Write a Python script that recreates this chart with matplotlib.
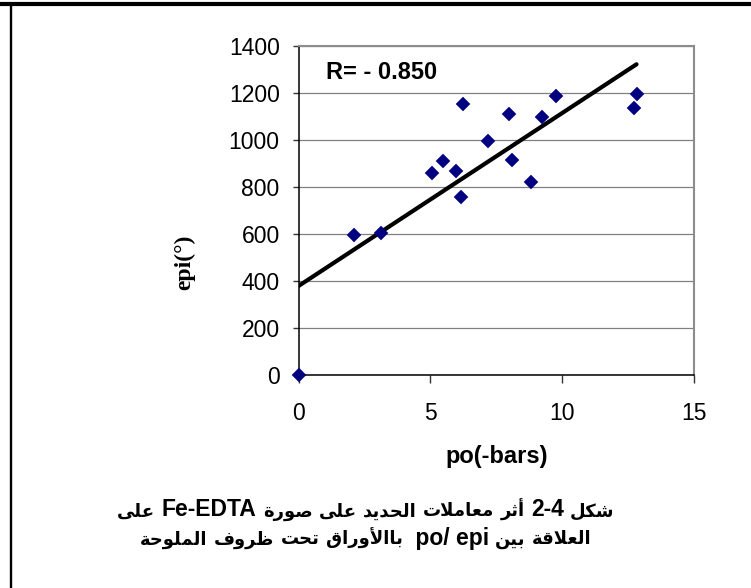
import numpy as np
import matplotlib
matplotlib.use("Agg")
import matplotlib.pyplot as plt
from matplotlib.lines import Line2D
from matplotlib.offsetbox import TextArea, HPacker, AnnotationBbox

# ---------------- data ----------------
po_bars = [0.0, 2.1, 3.11, 5.08, 5.47, 5.97, 6.23, 6.17, 7.2, 7.97, 8.11, 8.81, 9.22, 9.77, 12.72, 12.82]
epi_deg = [0, 596, 603, 861, 912, 869, 1153, 759, 996, 1111, 915, 820, 1099, 1187, 1135, 1194]
x_ticks = [0, 5, 10, 15]
y_ticks = [0, 200, 400, 600, 800, 1000, 1200, 1400]
r_label = "R= - 0.850"
x_label = "po(-bars)"
y_label = "epi(°)"
caption_line1 = ["شكل", "2-4", "أثر", "معاملات", "الحديد", "على", "صورة", "Fe-EDTA", "على"]
caption_line2 = ["العلاقة", "بين", " po/ epi", "باالأوراق", "تحت", "ظروف", "الملوحة"]

# ---------------- minimal Arabic shaping (matplotlib has no shaping/bidi) ----------------
FORMS = {
    '\u0621': ('\uFE80', None, None, None),
    '\u0622': ('\uFE81', '\uFE82', None, None),
    '\u0623': ('\uFE83', '\uFE84', None, None),
    '\u0624': ('\uFE85', '\uFE86', None, None),
    '\u0625': ('\uFE87', '\uFE88', None, None),
    '\u0626': ('\uFE89', '\uFE8A', '\uFE8B', '\uFE8C'),
    '\u0627': ('\uFE8D', '\uFE8E', None, None),
    '\u0628': ('\uFE8F', '\uFE90', '\uFE91', '\uFE92'),
    '\u0629': ('\uFE93', '\uFE94', None, None),
    '\u062A': ('\uFE95', '\uFE96', '\uFE97', '\uFE98'),
    '\u062B': ('\uFE99', '\uFE9A', '\uFE9B', '\uFE9C'),
    '\u062C': ('\uFE9D', '\uFE9E', '\uFE9F', '\uFEA0'),
    '\u062D': ('\uFEA1', '\uFEA2', '\uFEA3', '\uFEA4'),
    '\u062E': ('\uFEA5', '\uFEA6', '\uFEA7', '\uFEA8'),
    '\u062F': ('\uFEA9', '\uFEAA', None, None),
    '\u0630': ('\uFEAB', '\uFEAC', None, None),
    '\u0631': ('\uFEAD', '\uFEAE', None, None),
    '\u0632': ('\uFEAF', '\uFEB0', None, None),
    '\u0633': ('\uFEB1', '\uFEB2', '\uFEB3', '\uFEB4'),
    '\u0634': ('\uFEB5', '\uFEB6', '\uFEB7', '\uFEB8'),
    '\u0635': ('\uFEB9', '\uFEBA', '\uFEBB', '\uFEBC'),
    '\u0636': ('\uFEBD', '\uFEBE', '\uFEBF', '\uFEC0'),
    '\u0637': ('\uFEC1', '\uFEC2', '\uFEC3', '\uFEC4'),
    '\u0638': ('\uFEC5', '\uFEC6', '\uFEC7', '\uFEC8'),
    '\u0639': ('\uFEC9', '\uFECA', '\uFECB', '\uFECC'),
    '\u063A': ('\uFECD', '\uFECE', '\uFECF', '\uFED0'),
    '\u0641': ('\uFED1', '\uFED2', '\uFED3', '\uFED4'),
    '\u0642': ('\uFED5', '\uFED6', '\uFED7', '\uFED8'),
    '\u0643': ('\uFED9', '\uFEDA', '\uFEDB', '\uFEDC'),
    '\u0644': ('\uFEDD', '\uFEDE', '\uFEDF', '\uFEE0'),
    '\u0645': ('\uFEE1', '\uFEE2', '\uFEE3', '\uFEE4'),
    '\u0646': ('\uFEE5', '\uFEE6', '\uFEE7', '\uFEE8'),
    '\u0647': ('\uFEE9', '\uFEEA', '\uFEEB', '\uFEEC'),
    '\u0648': ('\uFEED', '\uFEEE', None, None),
    '\u0649': ('\uFEEF', '\uFEF0', None, None),
    '\u064A': ('\uFEF1', '\uFEF2', '\uFEF3', '\uFEF4'),
}
LAM_ALEF = {'\u0622': ('\uFEF5', '\uFEF6'), '\u0623': ('\uFEF7', '\uFEF8'),
            '\u0625': ('\uFEF9', '\uFEFA'), '\u0627': ('\uFEFB', '\uFEFC')}


def is_arabic_word(w):
    return any(c in FORMS for c in w)


def shape_word(word):
    units = []
    i = 0
    while i < len(word):
        c = word[i]
        if c == '\u0644' and i + 1 < len(word) and word[i + 1] in LAM_ALEF:
            units.append(('LA', word[i + 1]))
            i += 2
        else:
            units.append(c)
            i += 1

    def joins_forward(u):
        return (not isinstance(u, tuple)) and u in FORMS and FORMS[u][2] is not None

    def is_ar(u):
        return isinstance(u, tuple) or u in FORMS

    out = []
    for k, u in enumerate(units):
        prev = units[k - 1] if k > 0 else None
        nxt = units[k + 1] if k + 1 < len(units) else None
        jp = prev is not None and joins_forward(prev)
        if isinstance(u, tuple):
            iso, fin = LAM_ALEF[u[1]]
            out.append(fin if jp else iso)
        elif u in FORMS:
            iso, fin, ini, med = FORMS[u]
            jn = ini is not None and nxt is not None and is_ar(nxt)
            if jp and fin is None:
                jp = False
            if jp and jn:
                out.append(med)
            elif jp:
                out.append(fin)
            elif jn:
                out.append(ini)
            else:
                out.append(iso)
        else:
            out.append(u)
    return ''.join(reversed(out))


AR_PROPS = dict(family='DejaVu Sans', fontweight='bold', fontsize=13.0, color='black')
LAT_PROPS = dict(family='Liberation Sans', fontweight='bold', fontsize=16.5, color='black')


def caption_box(tokens):
    children = []
    for t in reversed(tokens):  # right-to-left reading order -> visual left-to-right
        if is_arabic_word(t):
            children.append(TextArea(shape_word(t), textprops=AR_PROPS))
        else:
            children.append(TextArea(t, textprops=LAT_PROPS))
    return HPacker(children=children, align='baseline', pad=0, sep=4.5)


# ---------------- figure ----------------
W, H = 751, 588
fig = plt.figure(figsize=(W / 100, H / 100), dpi=100)
fig.patch.set_facecolor('white')

ax = fig.add_axes([298.5 / W, 1 - 375 / H, (694 - 298.5) / W, (375 - 46) / H])
ax.set_xlim(0, 15)
ax.set_ylim(0, 1400)

ax.set_yticks(y_ticks)
ax.set_xticks(x_ticks)
ax.yaxis.grid(True, color='#808080', lw=0.9)
ax.set_axisbelow(True)

for side in ('top', 'right'):
    ax.spines[side].set_color('#8c8c8c')
    ax.spines[side].set_linewidth(1.5)
for side in ('left', 'bottom'):
    ax.spines[side].set_color('black')
    ax.spines[side].set_linewidth(1.1)

ax.tick_params(axis='y', direction='out', length=4.5, width=1, color='#333333', pad=9)
ax.tick_params(axis='x', direction='out', length=5.5, width=1, color='#333333', pad=14)
for lab in ax.get_xticklabels() + ax.get_yticklabels():
    lab.set_fontfamily('Liberation Sans')
    lab.set_fontsize(16.5)

# scatter
ax.plot(po_bars, epi_deg, linestyle='none', marker='D', markersize=7.2,
        markerfacecolor='#000080', markeredgecolor='#000080', markeredgewidth=0.3,
        clip_on=False, zorder=4)

# linear trendline fitted to the data
slope, intercept = np.polyfit(po_bars, epi_deg, 1)
xs = np.array([min(po_bars), max(po_bars)])
ax.plot(xs, slope * xs + intercept, color='black', lw=3, solid_capstyle='round', zorder=3)

ax.text(0.07, 0.92, r_label, transform=ax.transAxes, fontsize=17, fontweight='bold',
        family='Liberation Sans', ha='left', va='center')

ax.set_xlabel(x_label, fontsize=17, fontweight='bold', family='Liberation Sans', va='center')
ax.xaxis.set_label_coords(0.5, (375 - 456) / 329)
ax.set_ylabel(y_label, fontsize=17, fontweight='bold', family='Liberation Serif', va='center')
ax.yaxis.set_label_coords((185 - 298.5) / 395.5, (375 - 262) / 329)

# caption (two lines, right-to-left Arabic with embedded Latin)
for tokens, yc in ((caption_line1, 510), (caption_line2, 538)):
    ab = AnnotationBbox(caption_box(tokens), (366 / W, 1 - yc / H), xycoords='figure fraction',
                        frameon=False, box_alignment=(0.5, 0.5), pad=0)
    fig.add_artist(ab)

# outer frame (top heavy rule and left rule)
fig.add_artist(Line2D([0, 1], [1 - 3.7 / H] * 2, color='black', lw=3.0, transform=fig.transFigure))
fig.add_artist(Line2D([10.5 / W] * 2, [0, 1 - 3.7 / H], color='black', lw=1.7, transform=fig.transFigure))

fig.savefig('out.png', dpi=100, facecolor='white')
